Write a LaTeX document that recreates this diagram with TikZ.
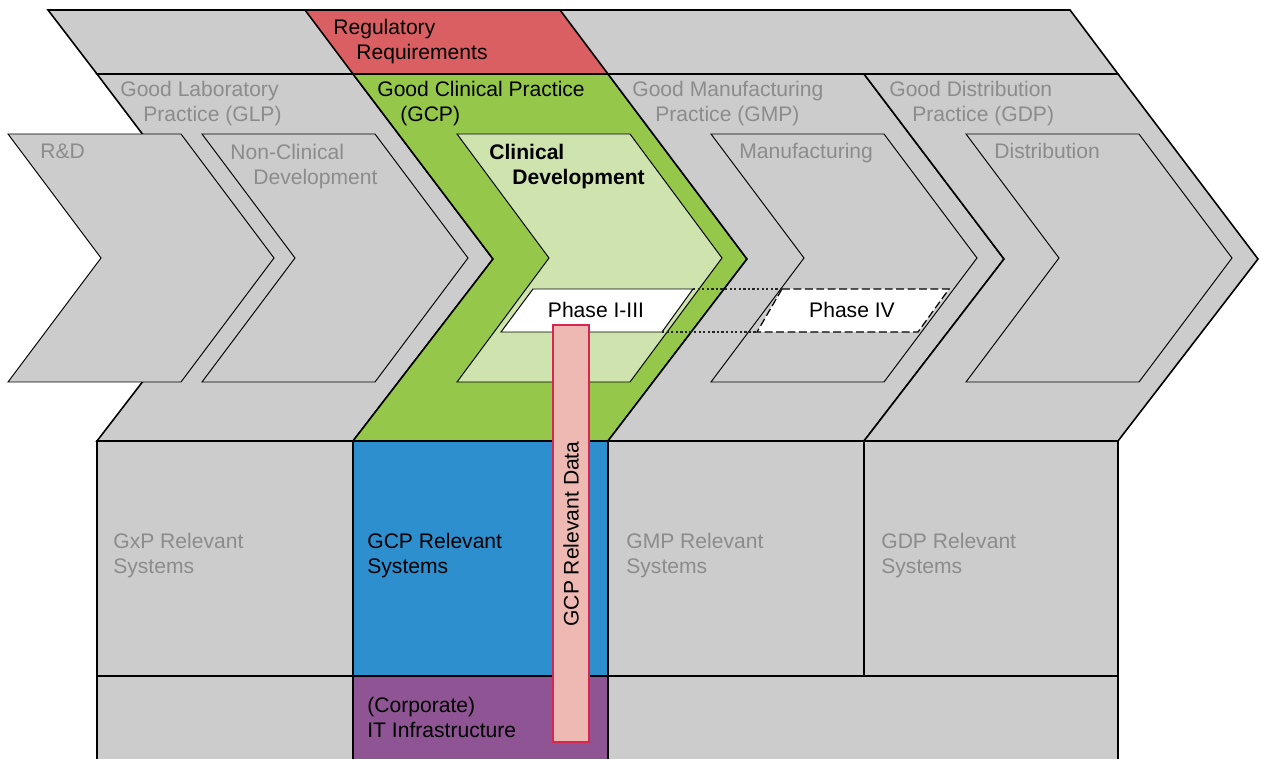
\documentclass[tikz,border=0pt]{standalone}
\usepackage{fontspec}
\setmainfont{Liberation Sans}
\definecolor{panelgrey}{HTML}{CBCCCB}
\definecolor{labelgrey}{HTML}{8C8C8C}
\definecolor{regred}{HTML}{D95F62}
\definecolor{gcpgreen}{HTML}{95C84A}
\definecolor{cdgreen}{HTML}{CFE3AE}
\definecolor{sysblue}{HTML}{2E8FCE}
\definecolor{itpurple}{HTML}{8E5494}
\definecolor{datapink}{HTML}{EEB8B3}
\definecolor{datared}{HTML}{D7264F}
\tikzset{
  panel/.style={fill=panelgrey, draw=black, line width=0.9pt},
  stage/.style={fill=panelgrey, draw=black, line width=0.55pt},
  greytext/.style={text=labelgrey, anchor=base west, inner sep=0pt, align=left, font=\fontsize{12}{14.6}\selectfont},
  blacktext/.style={greytext, text=black},
  phaselink/.style={black!85, line width=0.6pt, dash pattern=on 1.3pt off 1.3pt},
}
\begin{document}
\begin{tikzpicture}[x=0.02cm, y=-0.02cm]
  \useasboundingbox (0,0) rectangle (1261,759);
  \clip (0,0) rectangle (1261,759);
  % top band
  \draw[panel] (48,10) -- (1070,10) -- (1118,74) -- (97,74) -- cycle;
  \draw[panel, fill=regred] (305,10) -- (560,10) -- (608,74) -- (353,74) -- cycle;

  % practices
  \draw[panel] (97,74) -- (353,74) -- (493,259) -- (353,441) -- (97,441) -- (237,259) -- cycle;
  \draw[panel, fill=gcpgreen] (353,74) -- (608,74) -- (747,259) -- (608,441) -- (353,441) -- (493,259) -- cycle;
  \draw[panel] (608,74) -- (864,74) -- (1004,259) -- (864,441) -- (608,441) -- (747,259) -- cycle;
  \draw[panel] (864,74) -- (1118,74) -- (1258,259) -- (1118,441) -- (864,441) -- (1004,259) -- cycle;

  % stages
  \draw[stage] (8,134) -- (181,134) -- (274,258) -- (181,382) -- (8,382) -- (101,258) -- cycle;
  \draw[stage] (202,134) -- (375,134) -- (468,258) -- (375,382) -- (202,382) -- (295,258) -- cycle;
  \draw[stage, fill=cdgreen] (457,134) -- (630,134) -- (722,258) -- (630,382) -- (457,382) -- (549,258) -- cycle;
  \draw[stage] (711,134) -- (884,134) -- (977,258) -- (884,382) -- (711,382) -- (804,258) -- cycle;
  \draw[stage] (966,134) -- (1139,134) -- (1232,258) -- (1139,382) -- (966,382) -- (1059,258) -- cycle;

  % phases
  \coordinate (p13tr) at (693,289);
  \coordinate (p13br) at (662,332);
  \coordinate (p4tl) at (782,289);
  \coordinate (p4bl) at (757,332);
  \draw[stage, fill=white] (533,289) -- (p13tr) -- (p13br) -- (501,332) -- cycle;
  \draw[stage, fill=white, line width=0.7pt, dash pattern=on 4.5pt off 2pt] (p4tl) -- (949,289) -- (918,332) -- (p4bl) -- cycle;
  \draw[phaselink] (p13tr) -- (p4tl);
  \draw[phaselink] (p13br) -- (p4bl);

  % systems
  \draw[panel] (97,441) rectangle (353,676);
  \draw[panel, fill=sysblue] (353,441) rectangle (608,676);
  \draw[panel] (608,441) rectangle (864,676);
  \draw[panel] (864,441) rectangle (1118,676);
  \draw[panel] (97,676) rectangle (353,770);
  \draw[panel, fill=itpurple] (353,676) rectangle (608,770);
  \draw[panel] (608,676) rectangle (1118,770);

  % data bar
  \draw[fill=datapink, draw=datared, line width=0.8pt] (553,325) rectangle (589,742);
  \node[rotate=90, inner sep=0pt, font=\fontsize{12}{14}\selectfont] (data) at (571,534) {GCP Relevant Data};

  % labels (base = last line)
  \node[blacktext] (reg) at (333,60) {Regulatory\\\hspace*{0.46cm}Requirements};
  \node[greytext] (glp) at (120,122) {Good Laboratory\\\hspace*{0.46cm}Practice (GLP)};
  \node[blacktext] (gcp) at (377,122) {Good Clinical Practice\\\hspace*{0.46cm}(GCP)};
  \node[greytext] (gmp) at (632,122) {Good Manufacturing\\\hspace*{0.46cm}Practice (GMP)};
  \node[greytext] (gdp) at (889,122) {Good Distribution\\\hspace*{0.46cm}Practice (GDP)};
  \node[greytext] (rd) at (40,159) {R\&D};
  \node[greytext] (nc) at (230,185) {Non-Clinical\\\hspace*{0.46cm}Development};
  \node[blacktext, font=\fontsize{12}{14.6}\selectfont\bfseries] (cd) at (489,185) {Clinical\\\hspace*{0.46cm}Development};
  \node[greytext] (man) at (739,159) {Manufacturing};
  \node[greytext] (dist) at (994,159) {Distribution};
  \node[blacktext, anchor=base] (ph13) at (596,318) {Phase I-III};
  \node[blacktext, anchor=base] (ph4) at (852,318) {Phase IV};
  \node[greytext] (gxpsys) at (113,574) {GxP Relevant\\Systems};
  \node[blacktext] (gcpsys) at (367,574) {GCP Relevant\\Systems};
  \node[greytext] (gmpsys) at (626,574) {GMP Relevant\\Systems};
  \node[greytext] (gdpsys) at (881,574) {GDP Relevant\\Systems};
  \node[blacktext] (infra) at (367,738) {(Corporate)\\IT Infrastructure};
\end{tikzpicture}
\end{document}
